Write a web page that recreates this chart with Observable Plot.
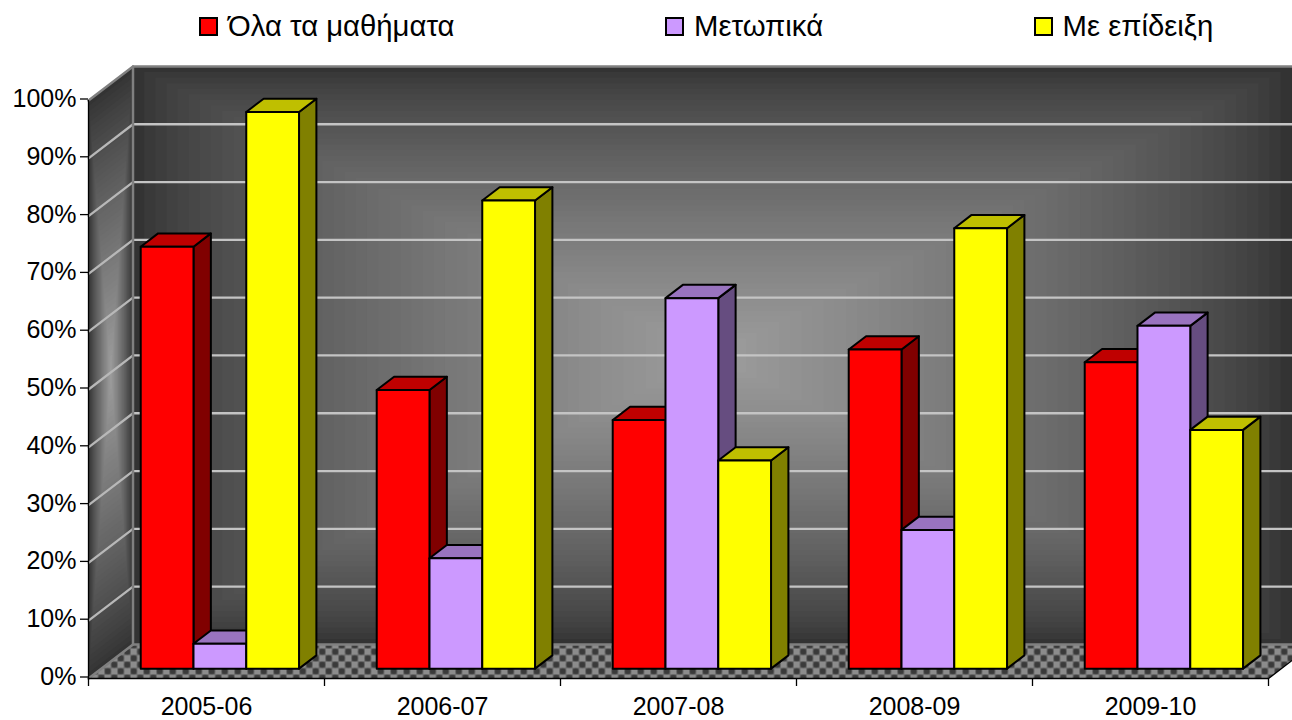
<!DOCTYPE html>
<html lang="el">
<head>
<meta charset="utf-8">
<script src="https://cdn.jsdelivr.net/npm/d3@7"></script>
<script src="https://cdn.jsdelivr.net/npm/@observablehq/plot@0.6"></script>
<style>
  html, body { margin: 0; padding: 0; background: #fff; overflow: hidden; }
  #legend { height: 50px; display: flex; gap: 210.5px; padding-left: 199px; padding-top: 2px; align-items: center; box-sizing: border-box;
            font-family: "Liberation Sans", Arial, sans-serif; font-size: 29.3px; color: #000; }
  #legend .item { display: flex; align-items: center; gap: 10px; white-space: nowrap; }
  #legend .sw { width: 15px; height: 15px; border: 2px solid #000; }
  svg { display: block; }
</style>
</head>
<body>
<div id="legend"></div>
<div id="chart"></div>
<script>
const categories = ["2005-06", "2006-07", "2007-08", "2008-09", "2009-10"];
const seriesNames = ["Όλα τα μαθήματα", "Μετωπικά", "Με επίδειξη"];
const allLessons = [73, 48.2, 43, 55.2, 53];
const frontal = [4.3, 19.1, 64.1, 24, 59.3];
const demonstration = [96.3, 81, 36, 76.2, 41.3];
const seriesValues = [allLessons, frontal, demonstration];
const seriesColors = ["#ff0000", "#cc99ff", "#ffff00"];
const yTicks = [0, 10, 20, 30, 40, 50, 60, 70, 80, 90, 100];

// oblique projection of the chart's depth axis, expressed in scale units
const DX = 0.1886, DY = 5.89;
const BAR_NEAR = 0.29, BAR_FAR = 0.68, BAR_W = 0.2236;

let nextId = 0;
function polygon(points, fill) {
  const id = nextId++;
  const closed = [...points, points[0]];
  return closed.map(([u, v, d]) => ({x: u + d * DX, y: v + d * DY, id, fill}));
}
const shade = (c, k) => { const r = d3.rgb(c); return d3.rgb(r.r * k, r.g * k, r.b * k).formatHex(); };

// walls: rectangular path gradient as nested faces
const STEPS = 52;
const ramp = d3.interpolateRgb("#333333", "#9e9e9e");
const wallFaces = [];
const CU = 2.455;
wallFaces.push(...polygon([[0, 0, 1], [5, 0, 1], [5, 100, 1], [0, 100, 1]], "#333333"));
for (let k = 0; k < STEPS; ++k) {
  const s = 1 - k / STEPS, c = ramp(Math.pow(k / STEPS, 0.72));
  wallFaces.push(...polygon([[CU - CU * s, 50 - 50 * s, 1], [CU + CU * s, 50 - 50 * s, 1], [CU + CU * s, 50 + 50 * s, 1], [CU - CU * s, 50 + 50 * s, 1]], c));
}
for (let k = 0; k < STEPS; ++k) {
  const s = 1 - k / STEPS, c = ramp(Math.pow(k / STEPS, 0.85));
  wallFaces.push(...polygon([[0, 50 - 50 * s, 0.5 - 0.5 * s], [0, 50 - 50 * s, 0.5 + 0.5 * s], [0, 50 + 50 * s, 0.5 + 0.5 * s], [0, 50 + 50 * s, 0.5 - 0.5 * s]], c));
}

const floorFace = polygon([[0, 0, 0], [5, 0, 0], [5, 0, 1], [0, 0, 1]], "url(#floorPattern)");

const gridBack = yTicks.filter(v => v > 0 && v < 100).flatMap(v => polygon([[0, v, 1], [5, v, 1]], "none").slice(0, 2));
const gridSide = yTicks.filter(v => v > 0 && v < 100).flatMap(v => polygon([[0, v, 0], [0, v, 1]], "none").slice(0, 2));
const wallEdges = [
  [[0, 100, 0], [0, 100, 1], [5, 100, 1]],
  [[0, 100, 1], [0, 0, 1], [5, 0, 1]],
  [[0, 0, 0], [0, 0, 1]]
].flatMap(p => polygon(p, "none").slice(0, p.length));

// bars: three visible faces each, in painter's order
const barFaces = [];
categories.forEach((_, i) => {
  const left = i + 0.502 - 1.5 * BAR_W;
  seriesValues.forEach((vals, j) => {
    const a = left + j * BAR_W, b = a + BAR_W, v = vals[i], c = seriesColors[j];
    barFaces.push(...polygon([[b, 0, BAR_NEAR], [b, 0, BAR_FAR], [b, v, BAR_FAR], [b, v, BAR_NEAR]], shade(c, 0.5)));
    barFaces.push(...polygon([[a, v, BAR_NEAR], [a, v, BAR_FAR], [b, v, BAR_FAR], [b, v, BAR_NEAR]], shade(c, 0.75)));
    barFaces.push(...polygon([[a, 0, BAR_NEAR], [b, 0, BAR_NEAR], [b, v, BAR_NEAR], [a, v, BAR_NEAR]], c));
  });
});

function floorDefs() {
  const ns = "http://www.w3.org/2000/svg";
  const defs = document.createElementNS(ns, "defs");
  defs.innerHTML = `<pattern id="floorPattern" patternUnits="userSpaceOnUse" width="13" height="13">
    <rect width="13" height="13" fill="#555"/>
    <rect x="0" y="0" width="6.5" height="6.5" fill="#8c8c8c"/>
    <rect x="6.5" y="6.5" width="6.5" height="6.5" fill="#8c8c8c"/>
    <circle cx="9.75" cy="3.25" r="3" fill="#3a3a3a"/>
    <circle cx="3.25" cy="9.75" r="3" fill="#3a3a3a"/>
  </pattern>`;
  return defs;
}

const lineOpts = {x: "x", y: "y", z: "id"};
const plot = Plot.plot({
  width: 1292,
  height: 670,
  marginLeft: 88,
  marginRight: 24,
  marginTop: 50,
  marginBottom: 42,
  x: {type: "linear", domain: [0, 5], range: [88, 1268]},
  y: {type: "linear", domain: [0, 100], range: [628, 50]},
  color: {type: "identity"},
  style: {fontFamily: "'Liberation Sans', Arial, sans-serif", background: "#fff", color: "#000"},
  marks: [
    floorDefs,
    Plot.line(wallFaces, {...lineOpts, fill: "fill", stroke: "none"}),
    Plot.line(floorFace, {...lineOpts, fill: "fill", stroke: "none"}),
    Plot.line(gridBack, {...lineOpts, stroke: "#c4c4c4", strokeWidth: 2.3}),
    Plot.line(gridSide, {...lineOpts, stroke: "#b8b8b8", strokeWidth: 2.3}),
    Plot.line(wallEdges, {...lineOpts, stroke: "#808080", strokeWidth: 2.5}),
    Plot.line(barFaces, {...lineOpts, fill: "fill", stroke: "#000", strokeWidth: 2}),
    Plot.ruleX([0], {stroke: "#000", strokeWidth: 1.3}),
    Plot.ruleY([0], {stroke: "#000", strokeWidth: 1.3}),
    Plot.line(polygon([[5, 0, 0], [5, 0, 1]], "none").slice(0, 2), {...lineOpts, stroke: "#000", strokeWidth: 1.3}),
    Plot.axisY({ticks: yTicks, tickFormat: d => d + "%", tickSize: 8, tickPadding: 4, fontSize: 25, label: null, dy: -1.5, strokeWidth: 1.3, stroke: "#000"}),
    Plot.axisX({ticks: d3.range(0, 6), tickFormat: () => "", tickSize: 8, label: null, strokeWidth: 1.3, stroke: "#000"}),
    Plot.axisX({ticks: categories.map((_, i) => i + 0.5), tickFormat: d => categories[d - 0.5], tickSize: 0, tickPadding: 19, fontSize: 25, label: null})
  ]
});
document.getElementById("chart").append(plot);

const legend = document.getElementById("legend");
seriesNames.forEach((n, i) => {
  const item = document.createElement("div"); item.className = "item";
  const sw = document.createElement("span"); sw.className = "sw"; sw.style.background = seriesColors[i];
  const t = document.createElement("span"); t.textContent = n;
  item.append(sw, t); legend.append(item);
});
</script>
</body>
</html>
